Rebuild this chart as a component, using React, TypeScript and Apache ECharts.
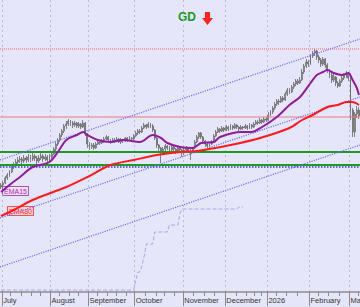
import React, { useEffect, useRef } from 'react';
import * as echarts from 'echarts';

const MONTH_LABELS = ['July', 'August', 'September', 'October', 'November', 'December', '2026', 'February', 'March'];
const MONTH_START = [1, 24, 42, 64, 87, 107, 127, 147, 166];
const WEEK_TICKS = [1, 5, 10, 15, 19, 24, 28, 33, 37, 42, 46, 51, 55, 60, 64, 69, 74, 78, 83, 87, 92, 97, 102, 107, 112, 117, 121, 124, 127, 131, 136, 141, 147, 151, 156, 161, 166, 170];

// [open, close, low, high]
const CANDLES: number[][] = [
  [113,115,111,117],[115,117,113,119],[117,122,116,124],[122,125,120,127],[125,128,123,130],
  [128,133,127,135],[133,135,131,138],[135,138,134,141],[138,140,136,143],[140,141,137,144],
  [141,139,136,143],[139,142,137,145],[142,140,137,144],[140,143,138,146],[143,141,138,145],
  [141,144,139,147],[144,142,139,146],[142,139,136,144],[139,142,137,145],[142,144,140,147],
  [144,141,138,146],[141,143,139,146],[143,140,137,145],[140,143,138,146],[143,146,141,148],
  [146,151,145,153],[151,156,149,158],[156,160,154,162],[160,165,158,167],[165,169,163,171],
  [169,174,167,176],[174,176,171,179],[176,179,174,181],[179,177,174,180],[177,175,172,179],
  [175,177,173,179],[177,174,172,178],[174,176,172,178],[176,173,171,177],[173,177,172,180],
  [177,166,164,178],[166,156,152,167],[156,153,150,158],[153,155,151,157],[155,152,150,157],
  [152,156,151,158],[156,158,155,160],[158,157,155,160],[157,159,156,161],[159,161,157,163],
  [161,163,160,165],[163,160,158,164],[160,158,156,161],[158,160,157,162],[160,159,157,162],
  [159,161,158,163],[161,158,157,162],[158,160,156,162],[160,159,157,161],[159,162,158,163],
  [162,160,158,163],[160,162,159,164],[162,161,159,163],[161,164,160,166],[164,167,163,169],
  [167,169,165,171],[169,168,166,171],[168,172,167,174],[172,175,171,177],[175,173,171,176],
  [173,176,172,178],[176,174,172,177],[174,170,168,176],[170,162,160,171],[162,155,152,163],
  [155,152,148,156],[152,148,137,153],[148,151,146,153],[151,154,149,156],[154,152,150,155],
  [152,150,147,154],[150,153,148,155],[153,151,148,154],[151,149,146,152],[149,152,147,153],
  [152,150,147,153],[150,147,143,151],[147,150,145,152],[150,152,148,154],[152,149,147,153],
  [149,148,140,151],[148,152,147,153],[152,158,151,160],[158,163,157,165],[163,167,161,168],
  [167,163,161,168],[163,159,157,164],[159,156,153,160],[156,154,152,157],[154,156,153,158],
  [156,158,155,160],[158,164,157,166],[164,168,163,170],[168,171,167,173],[171,169,167,172],
  [169,172,168,174],[172,170,168,173],[170,173,169,175],[173,171,169,174],[171,174,170,176],
  [174,172,170,175],[172,175,171,177],[175,173,171,176],[173,171,169,174],[171,173,170,175],
  [173,172,170,174],[172,174,171,176],[174,172,170,175],[172,175,171,177],[175,173,171,176],
  [173,176,172,178],[176,178,175,180],[178,177,175,180],[177,180,176,182],[180,178,176,181],
  [178,181,177,183],[181,180,178,183],[180,185,179,188],[185,188,184,190],[188,192,186,194],
  [192,196,190,198],[196,199,194,201],[199,198,195,201],[198,202,197,204],[202,200,198,204],
  [200,206,199,208],[206,210,204,212],[210,208,206,212],[208,213,207,215],[213,216,211,218],
  [216,219,214,221],[219,217,215,221],[217,220,216,223],[220,228,219,231],[228,234,226,236],
  [234,238,232,241],[238,236,233,240],[236,244,235,246],[244,247,242,249],[247,249,244,251],
  [249,243,240,250],[243,240,237,245],[240,236,233,242],[236,241,234,243],[241,235,232,242],
  [235,230,227,237],[230,225,222,231],[225,220,217,227],[220,223,218,226],[223,217,214,224],
  [217,214,212,219],[214,219,213,221],[219,222,217,224],[222,225,220,227],[225,227,222,229],
  [227,222,219,228],[222,190,180,224],[190,168,163,192],[168,186,163,188],[186,190,182,194],
  [190,184,181,193]
];

const EMA15 = [
  [0,108],[4,115],[9,123],[15,133],[23,138],[27,148],[31,160],[36,165],[39,168],[41,165],
  [46,160],[52,158],[58,160],[66,158],[72,165],[76,162],[79,157],[85,153],[91,152],[95,157],
  [101,158],[104,163],[114,168],[119,168],[124,173],[131,183],[137,195],[142,203],[147,217],
  [150,225],[153,228],[155,230],[158,227],[162,225],[165,227],[167,220],[169,212],[170,205]
];

const EMA80 = [
  [0,84],[6,90],[15,100],[31,113],[41,123],[52,135],[63,140],[74,145],[85,148],[93,149],
  [109,155],[123,162],[137,172],[143,180],[148,185],[155,193],[160,195],[164,198],[167,198],[170,195]
];

const STOP_LINE = [
  [0,10],[63,10],[64,20],[65,28],[66,28],[67,35],[68,44],[69,56],[72,56],[73,68],[79,68],
  [80,75],[84,75],[85,87],[86,91],[112,91],[113,93],[115,93]
];

const LEVEL_RED_DOTTED = 251;
const LEVEL_RED = 183;
const LEVEL_GREEN_HIGH = 148;
const LEVEL_GREEN_LOW = 135;
const LEVEL_BLUE_DOTTED = 133;

const CHANNEL_UPPER = [[-0.5, 140], [170.5, 261]];
const CHANNEL_MID = [[-0.5, 82], [170.5, 203]];
const CHANNEL_LOW = [[-0.5, 33], [170.5, 155]];

const CATEGORIES = CANDLES.map((_, i) => String(i));
const X_MIN = -0.5;
const X_MAX = CANDLES.length - 0.5;

function hLine(v: number, color: string, width: number, type: string) {
  return {
    type: 'line', xAxisIndex: 1, yAxisIndex: 0, symbol: 'none', silent: true,
    data: [[X_MIN, v], [X_MAX, v]],
    lineStyle: { color, width, type },
  };
}

function seg(data: number[][], color: string, width: number, type: string) {
  return {
    type: 'line', xAxisIndex: 1, yAxisIndex: 0, symbol: 'none', silent: true,
    data, lineStyle: { color, width, type },
  };
}

export default function App() {
  const ref = useRef<HTMLDivElement>(null);
  useEffect(() => {
    document.body.style.margin = '0';
    document.body.style.overflow = 'hidden';
    if (!ref.current) return;
    const chart = echarts.init(ref.current, null, { renderer: 'svg' });
    const monthIdx = (i: number) => MONTH_START.indexOf(i);
    chart.setOption({
      animation: false,
      backgroundColor: '#e6e6fa',
      grid: { left: 0, right: 40, top: 0, bottom: 15, containLabel: false },
      xAxis: [
        {
          type: 'category', data: CATEGORIES, boundaryGap: true, position: 'bottom',
          axisLine: { show: true, lineStyle: { color: '#8c8c8c', width: 1.5 } },
          axisTick: { show: true, length: 14, interval: (i: number) => monthIdx(i) >= 0, lineStyle: { color: '#8c8c8c' } },
          axisLabel: {
            show: true, interval: (i: number) => monthIdx(i) >= 0, align: 'left', margin: 4,
            alignMinLabel: 'left', alignMaxLabel: 'left', hideOverlap: false,
            fontSize: 7.5, color: '#333', fontFamily: 'Liberation Sans, Arial, sans-serif',
            formatter: (v: string) => { const k = monthIdx(Number(v)); return k >= 0 ? MONTH_LABELS[k] : ''; },
          },
          splitLine: { show: true, interval: (i: number) => monthIdx(i) >= 0, lineStyle: { color: '#bdbdc8', type: [2, 3], width: 1 } },
        },
        { type: 'value', min: X_MIN, max: X_MAX, show: false },
        {
          type: 'category', data: CATEGORIES, boundaryGap: true, position: 'bottom',
          axisLine: { show: false },
          axisTick: { show: true, length: 4, interval: (i: number) => WEEK_TICKS.indexOf(i) >= 0, lineStyle: { color: '#8c8c8c' } },
          axisLabel: { show: false }, splitLine: { show: false },
        },
      ],
      yAxis: [{ type: 'value', min: 8, max: 300, show: false, splitLine: { show: false } }],
      series: [
        seg(STOP_LINE, '#a8a8e4', 1, 'dashed'),
        hLine(LEVEL_RED_DOTTED, '#ff5a5a', 1, 'dotted'),
        hLine(LEVEL_RED, '#f07878', 1, 'solid'),
        hLine(LEVEL_BLUE_DOTTED, '#3535ff', 1.5, 'dotted'),
        hLine(LEVEL_GREEN_HIGH, '#1f9a1f', 2, 'solid'),
        hLine(LEVEL_GREEN_LOW, '#1f9a1f', 2, 'solid'),
        seg(CHANNEL_UPPER, '#6b6bff', 1.2, 'dotted'),
        seg(CHANNEL_MID, '#6b6bff', 1.2, 'dotted'),
        seg(CHANNEL_LOW, '#6b6bff', 1.2, 'dotted'),
        {
          type: 'candlestick', xAxisIndex: 0, yAxisIndex: 0, data: CANDLES, barWidth: 1.4,
          itemStyle: { color: '#f4f4f4', color0: '#8a8a8a', borderColor: '#6a6a6a', borderColor0: '#6a6a6a', borderWidth: 0.8 },
        },
        {
          type: 'line', xAxisIndex: 1, yAxisIndex: 0, symbol: 'none', smooth: 0.3, data: EMA80,
          lineStyle: { color: '#ff1a1a', width: 2 },
        },
        {
          type: 'line', xAxisIndex: 1, yAxisIndex: 0, symbol: 'none', smooth: 0.3, data: EMA15,
          lineStyle: { color: '#8e1c9e', width: 2 },
        },
      ],
      graphic: [
        { type: 'text', left: 178, top: 11, style: { text: 'GD', fill: '#1a9a1a', font: 'bold 12px "Liberation Sans", Arial, sans-serif' } },
        { type: 'polygon', shape: { points: [[205, 12], [210, 12], [210, 18], [213, 18], [207.5, 25], [202, 18], [205, 18]] }, style: { fill: '#ff2020' } },
        { type: 'text', x: 3, y: 187, style: { text: 'EMA15', fill: '#a030b0', fontSize: 7, fontFamily: 'Liberation Sans, Arial, sans-serif', backgroundColor: '#f4e0f4', borderColor: '#b050c0', borderWidth: 1, padding: [1, 1, 0, 1] } },
        { type: 'text', x: 8, y: 207, style: { text: 'EMA80', fill: '#ff3030', fontSize: 7, fontFamily: 'Liberation Sans, Arial, sans-serif', backgroundColor: '#ffd4d4', borderColor: '#ff5050', borderWidth: 1, padding: [1, 1, 0, 1] } },
      ],
    });
    return () => chart.dispose();
  }, []);
  return <div ref={ref} style={{ position: 'fixed', left: 0, top: 0, width: 400, height: 307 }} />;
}
